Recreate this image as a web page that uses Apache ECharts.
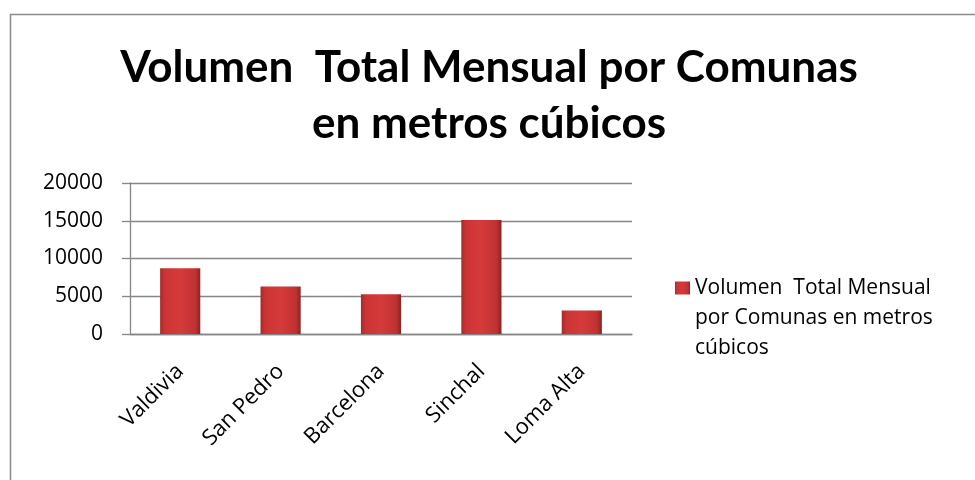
<!DOCTYPE html>
<html>
<head>
<meta charset="utf-8">
<script src="https://cdn.jsdelivr.net/npm/echarts@6/dist/echarts.min.js"></script>
<style>html,body{margin:0;padding:0;background:#fff}#c{width:975px;height:480px}</style>
</head>
<body>
<div id="c"></div>
<script>
const titleLines = ['Volumen  Total Mensual por Comunas', 'en metros cúbicos'];
const seriesName = 'Volumen  Total Mensual por Comunas en metros cúbicos';
const legendLines = ['Volumen  Total Mensual', 'por Comunas en metros', 'cúbicos'];
const categories = ['Valdivia', 'San Pedro', 'Barcelona', 'Sinchal', 'Loma Alta'];
const values = [8700, 6300, 5250, 15100, 3100];
const yMin = 0, yMax = 20000, yInterval = 5000;

const chart = echarts.init(document.getElementById('c'), null, {renderer: 'canvas'});
const font = '"Open Sans", "Liberation Sans", sans-serif';
chart.setOption({
  animation: false,
  backgroundColor: '#fff',
  graphic: [{
    type: 'rect', left: 8, top: 12, silent: true,
    shape: {width: 990, height: 500},
    style: {fill: 'none', stroke: '#8c8c8c', lineWidth: 1.5}
  }],
  title: {
    text: titleLines.join('\n'),
    left: 484, textAlign: 'center', top: 35,
    textStyle: {fontFamily: 'Lato, sans-serif', fontWeight: 'bold', fontSize: 44, lineHeight: 56, color: '#000'}
  },
  grid: {left: 130, right: 343, top: 183, bottom: 146},
  legend: {
    left: 675, top: 213, padding: 0, itemWidth: 15, itemHeight: 13, itemGap: 0,
    icon: 'rect',
    data: [seriesName],
    formatter: () => '\n\n' + legendLines.join('\n'),
    textStyle: {fontFamily: font, fontSize: 21, color: '#000', lineHeight: 30}
  },
  xAxis: {
    type: 'category', data: categories,
    axisLine: {lineStyle: {color: '#868686', width: 1.3}},
    axisTick: {length: 8, lineStyle: {color: '#868686', width: 1.3}},
    axisLabel: {rotate: 45, margin: 34, fontFamily: font, fontSize: 22, color: '#000'}
  },
  yAxis: {
    type: 'value', min: yMin, max: yMax, interval: yInterval,
    axisLine: {show: true, lineStyle: {color: '#868686', width: 1.3}},
    axisTick: {show: true, length: 8, lineStyle: {color: '#868686', width: 1.3}},
    splitLine: {lineStyle: {color: '#868686', width: 1.3}},
    axisLabel: {margin: 27, fontFamily: font, fontSize: 21, color: '#000', formatter: v => String(v)}
  },
  series: [{
    name: seriesName, type: 'bar', data: values, barWidth: '40%',
    itemStyle: {
      color: new echarts.graphic.LinearGradient(0, 0, 1, 0, [
        {offset: 0, color: '#a82a2a'},
        {offset: 0.12, color: '#cc3434'},
        {offset: 0.5, color: '#d63a3b'},
        {offset: 0.88, color: '#bf3232'},
        {offset: 1, color: '#872424'}
      ])
    }
  }]
});
</script>
</body>
</html>
